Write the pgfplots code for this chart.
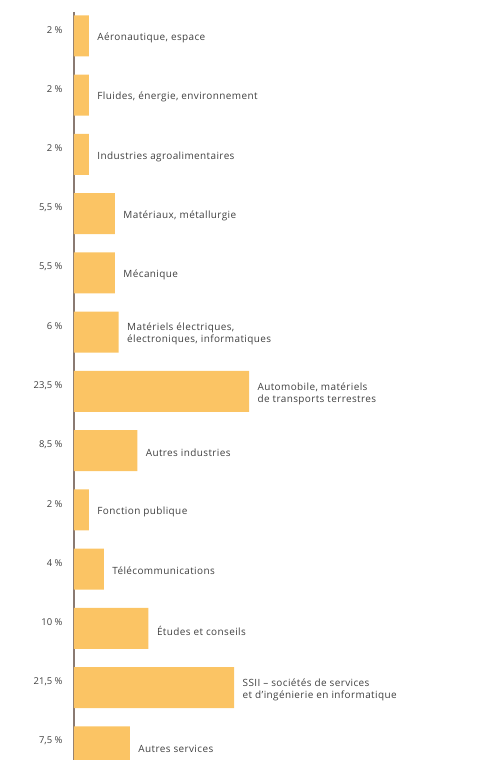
\documentclass[border=0pt]{standalone}
\usepackage{fontspec}
\setmainfont{Open Sans}
\newfontfamily\widefont[LetterSpace=4]{Open Sans}
\usepackage{pgfplots}
\pgfplotsset{compat=1.18}
\definecolor{barfill}{HTML}{FBC464}
\definecolor{axisline}{HTML}{8A7A72}
\definecolor{txt}{HTML}{404040}

\begin{document}
\begin{tikzpicture}[x=1bp,y=1bp]
\path[use as bounding box] (-74,0) rectangle (407,760);
\begin{axis}[
  at={(0,0)}, anchor=south west,
  scale only axis,
  width=400bp, height=748bp,
  xbar, bar width=41bp, bar shift=0pt,
  xmin=0, xmax=53.7,
  ymin=-0.405, ymax=12.22,
  y dir=reverse,
  axis x line=none,
  axis y line*=left,
  y axis line style={draw=axisline, line width=1.3pt, -},
  ytick={0,...,12},
  yticklabels={2 \%,2 \%,2 \%,{5,5 \%},{5,5 \%},6 \%,{23,5 \%},{8,5 \%},2 \%,4 \%,10 \%,{21,5 \%},{7,5 \%}},
  major tick length=0pt,
  yticklabel style={font=\fontsize{9.5}{11}\selectfont, text=txt, anchor=east, xshift=-8bp, yshift=6bp},
  clip=false,
  point meta=explicit symbolic,
  nodes near coords={\pgfplotspointmeta},
  nodes near coords style={font=\widefont\fontsize{10}{12}\selectfont, text=txt, anchor=west, align=left, xshift=5bp, yshift=-2bp},
]
\addplot[fill=barfill, draw=none] coordinates {
  (2,0) [Aéronautique, espace]
  (2,1) [Fluides, énergie, environnement]
  (2,2) [Industries agroalimentaires]
  (5.5,3) [Matériaux, métallurgie]
  (5.5,4) [Mécanique]
  (6,5) [{Matériels électriques,\\électroniques, informatiques}]
  (23.5,6) [{Automobile, matériels\\de transports terrestres}]
  (8.5,7) [Autres industries]
  (2,8) [Fonction publique]
  (4,9) [Télécommunications]
  (10,10) [Études et conseils]
  (21.5,11) [{SSII – sociétés de services\\et d’ingénierie en informatique}]
  (7.5,12) [Autres services]
};
\end{axis}
\end{tikzpicture}
\end{document}
